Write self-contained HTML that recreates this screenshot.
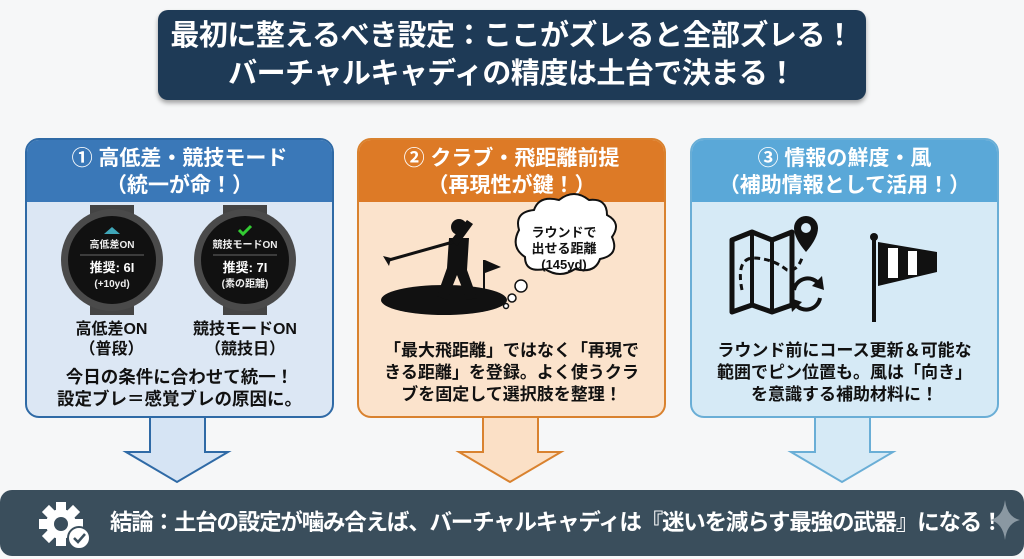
<!DOCTYPE html>
<html><head><meta charset="utf-8"><style>
*{margin:0;padding:0;box-sizing:border-box}
body{width:1024px;height:559px;background:#f6f7f8;position:relative;overflow:hidden;font-family:"Liberation Sans","Noto Sans CJK JP",sans-serif;font-weight:bold}
.abs{position:absolute}
.title{left:158px;top:10px;width:708px;height:90px;background:#1e3a56;border-radius:10px;color:#fff;font-size:29px;line-height:38px;text-align:center;padding-top:7px;box-shadow:0 3px 5px rgba(0,0,0,.35);white-space:nowrap;letter-spacing:-0.5px}
.panel{top:138px;width:309px;height:280px;border-radius:14px;border:2px solid;overflow:hidden}
.hd{height:62px;color:#fff;font-size:21px;line-height:27px;text-align:center;padding-top:5px}
.txt{position:absolute;width:100%;text-align:center;color:#111;font-size:17.5px;line-height:22px;white-space:nowrap}
.bar{left:0;top:490px;width:1024px;height:66px;background:#3a4e5c;border-radius:12px;color:#fff;font-size:22.5px;line-height:66px;padding-left:110px;letter-spacing:-1.2px;white-space:nowrap}
</style></head><body>
<div class="abs title">最初に整えるべき設定：ここがズレると全部ズレる！<br>バーチャルキャディの精度は土台で決まる！</div>

<svg class="abs" style="left:0;top:0" width="1024" height="559">
<polygon points="150,410 205,410 205,452 228,452 177,482 126,452 150,452" fill="#d6e4f4" stroke="#2f6aa6" stroke-width="2"/>
<polygon points="483,410 538,410 538,452 561,452 510,482 459,452 483,452" fill="#fbe0c6" stroke="#d9822f" stroke-width="2"/>
<polygon points="815,410 870,410 870,452 893,452 842,482 791,452 815,452" fill="#d6eaf6" stroke="#6aaed6" stroke-width="2"/>
</svg>

<div class="abs panel" style="left:25px;border-color:#2f6aa6;background:#dce7f4">
<div class="hd" style="background:#3a78b8">① 高低差・競技モード<br>（統一が命！）</div>
<svg class="abs" style="left:0;top:0" width="309" height="280">
<g transform="translate(85,120)">
<rect x="-22" y="-55" width="44" height="14" fill="#444"/><rect x="-22" y="41" width="44" height="14" fill="#444"/>
<circle r="51" fill="#4a4a4a"/><circle r="44" fill="#111"/>
<polygon points="-8,-26 0,-33 8,-26" fill="#3fa6b8"/>
<text y="-12" font-size="10" fill="#eee" text-anchor="middle">高低差ON</text>
<line x1="-32" y1="-5" x2="32" y2="-5" stroke="#666"/>
<text y="12" font-size="13" fill="#fff" text-anchor="middle">推奨: 6I</text>
<text y="27" font-size="10" fill="#eee" text-anchor="middle">(+10yd)</text>
</g>
<g transform="translate(218,120)">
<rect x="-22" y="-55" width="44" height="14" fill="#444"/><rect x="-22" y="41" width="44" height="14" fill="#444"/>
<circle r="51" fill="#4a4a4a"/><circle r="44" fill="#111"/>
<polyline points="-6,-30 -2,-26 6,-34" fill="none" stroke="#3c3" stroke-width="3"/>
<text y="-12" font-size="10" fill="#eee" text-anchor="middle">競技モードON</text>
<line x1="-32" y1="-5" x2="32" y2="-5" stroke="#666"/>
<text y="12" font-size="13" fill="#fff" text-anchor="middle">推奨: 7I</text>
<text y="27" font-size="10" fill="#eee" text-anchor="middle">(素の距離)</text>
</g>
</svg>
<div class="txt" style="top:180px;width:125px;left:22px;font-size:16px;line-height:20px">高低差ON<br>（普段）</div>
<div class="txt" style="top:180px;width:140px;left:148px;font-size:16px;line-height:20px">競技モードON<br>（競技日）</div>
<div class="txt" style="top:226px;font-size:17.5px">今日の条件に合わせて統一！<br>設定ブレ＝感覚ブレの原因に。</div>
</div>

<div class="abs panel" style="left:357px;border-color:#d9822f;background:#fbe3cc">
<div class="hd" style="background:#dd7a26">② クラブ・飛距離前提<br>（再現性が鍵！）</div>
<svg class="abs" style="left:0;top:0" width="309" height="280">
<ellipse cx="85" cy="160" rx="63" ry="15" fill="#111"/>
<circle cx="100" cy="87" r="8" fill="#111"/>
<path d="M90 98 L110 98 L108 130 L118 158 L108 160 L98 135 L88 160 L78 156 L88 128 Z" fill="#111"/>
<path d="M92 100 L108 80 L114 84 L98 106 Z" fill="#111"/>
<line x1="94" y1="102" x2="30" y2="120" stroke="#111" stroke-width="3"/>
<path d="M24 116 L32 118 L30 126 Z" fill="#111"/>
<line x1="125" y1="120" x2="125" y2="158" stroke="#111" stroke-width="2"/>
<polygon points="126,120 142,127 126,133" fill="#111"/>
<path d="M160 90 q-5 -18 15 -20 q5 -15 25 -10 q15 -12 30 0 q18 -2 18 15 q15 8 5 22 q8 18 -12 22 q-5 15 -25 10 q-15 10 -30 0 q-20 4 -20 -12 q-15 -10 -6 -27 z" fill="#fff" stroke="#111" stroke-width="2"/>
<circle cx="162" cy="146" r="6" fill="#fff" stroke="#111" stroke-width="1.5"/>
<circle cx="153" cy="158" r="4" fill="#fff" stroke="#111" stroke-width="1.5"/>
<circle cx="147" cy="166" r="2.5" fill="#fff" stroke="#111" stroke-width="1.5"/>
<text x="205" y="97" font-size="13" text-anchor="middle" fill="#111">ラウンドで</text>
<text x="205" y="113" font-size="13" text-anchor="middle" fill="#111">出せる距離</text>
<text x="205" y="129" font-size="13" text-anchor="middle" fill="#111">(145yd)</text>
</svg>
<div class="txt" style="top:200px;font-size:17px">「最大飛距離」ではなく「再現で<br>きる距離」を登録。よく使うクラ<br>ブを固定して選択肢を整理！</div>
</div>

<div class="abs panel" style="left:690px;border-color:#6aaed6;background:#d6eaf6">
<div class="hd" style="background:#5aa8d8">③ 情報の鮮度・風<br>（補助情報として活用！）</div>
<svg class="abs" style="left:0;top:0" width="309" height="280">
<path d="M40 100 L60 92 L80 100 L100 92 L100 165 L80 172 L60 165 L40 172 Z" fill="none" stroke="#111" stroke-width="5" stroke-linejoin="round"/>
<line x1="60" y1="92" x2="60" y2="165" stroke="#111" stroke-width="4"/><line x1="80" y1="100" x2="80" y2="172" stroke="#111" stroke-width="4"/>
<path d="M50 150 Q44 120 60 118 Q80 118 95 130 Q105 132 110 118" fill="none" stroke="#111" stroke-width="3" stroke-dasharray="6 4"/>
<path d="M114 76 a12 12 0 0 1 12 12 q0 10 -12 24 q-12 -14 -12 -24 a12 12 0 0 1 12 -12z" fill="#111"/><circle cx="114" cy="88" r="5" fill="#d6eaf6"/>
<path d="M102 150 a14 14 0 0 1 25 -6" fill="none" stroke="#111" stroke-width="4"/><polygon points="130,136 132,150 120,146" fill="#111"/>
<path d="M128 158 a14 14 0 0 1 -25 6" fill="none" stroke="#111" stroke-width="4"/><polygon points="100,172 98,158 110,162" fill="#111"/>
<line x1="182" y1="98" x2="182" y2="182" stroke="#111" stroke-width="4"/><circle cx="182" cy="97" r="4" fill="#111"/>
<path d="M186 102 L245 112 L245 132 L186 146 Z" fill="#111"/>
<rect x="196" y="108" width="10" height="30" fill="#fff"/><rect x="216" y="111" width="9" height="24" fill="#fff"/>
</svg>
<div class="txt" style="top:200px;font-size:17px">ラウンド前にコース更新＆可能な<br>範囲でピン位置も。風は「向き」<br>を意識する補助材料に！</div>
</div>

<div class="abs bar">結論：土台の設定が噛み合えば、バーチャルキャディは『迷いを減らす最強の武器』になる！</div>
<svg class="abs" style="left:35px;top:498px" width="60" height="56">
<g transform="translate(26,26)" fill="#fff">
<circle r="15"/>
<g><rect x="-5" y="-22" width="10" height="9"/><rect x="-5" y="13" width="10" height="9"/><rect x="-22" y="-5" width="9" height="10"/><rect x="13" y="-5" width="9" height="10"/>
<g transform="rotate(45)"><rect x="-5" y="-22" width="10" height="9"/><rect x="-5" y="13" width="10" height="9"/><rect x="-22" y="-5" width="9" height="10"/><rect x="13" y="-5" width="9" height="10"/></g></g>
<circle r="7" fill="#3a4e5c"/>
</g>
<circle cx="44" cy="40" r="11" fill="#fff" stroke="#3a4e5c" stroke-width="2"/>
<polyline points="39,40 43,44 50,36" fill="none" stroke="#3a4e5c" stroke-width="2.5"/>
</svg>
<svg class="abs" style="left:990px;top:500px" width="30" height="40"><path d="M15 0 Q17 17 30 20 Q17 23 15 40 Q13 23 0 20 Q13 17 15 0Z" fill="#8a98a2"/></svg>
</body></html>
